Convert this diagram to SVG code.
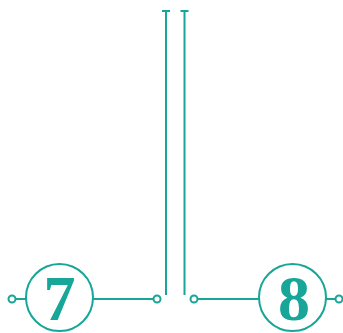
<svg xmlns="http://www.w3.org/2000/svg" width="343" height="333" viewBox="0 0 343 333">
<style>
.l{stroke:#17a697;stroke-width:2;fill:none}
.d{stroke:#17a697;stroke-width:2;fill:#fff}
.n{font-family:"Liberation Serif",serif;font-weight:bold;font-size:64px;fill:#17a697;text-anchor:middle}
</style>
<rect width="343" height="333" fill="#fff"/>
<g id="connectors">
<path class="l" d="M166 11V295M162 11H170M184.5 11V295M180.5 11H188.5"/>
<path class="l" d="M15 299H26M93 299H153"/>
<path class="l" d="M198 299H259M326 299H336"/>
</g>
<g id="node7">
<circle class="d" cx="59.5" cy="297.5" r="33.5"/>
<text class="n" x="59.5" y="320">7</text>
<circle class="d" cx="12" cy="299" r="3.5"/>
<circle class="d" cx="157" cy="299" r="3.5"/>
</g>
<g id="node8">
<circle class="d" cx="292.5" cy="297.5" r="33.5"/>
<text class="n" x="294" y="320">8</text>
<circle class="d" cx="194" cy="299" r="3.5"/>
<circle class="d" cx="339" cy="299" r="3.5"/>
</g>
</svg>
